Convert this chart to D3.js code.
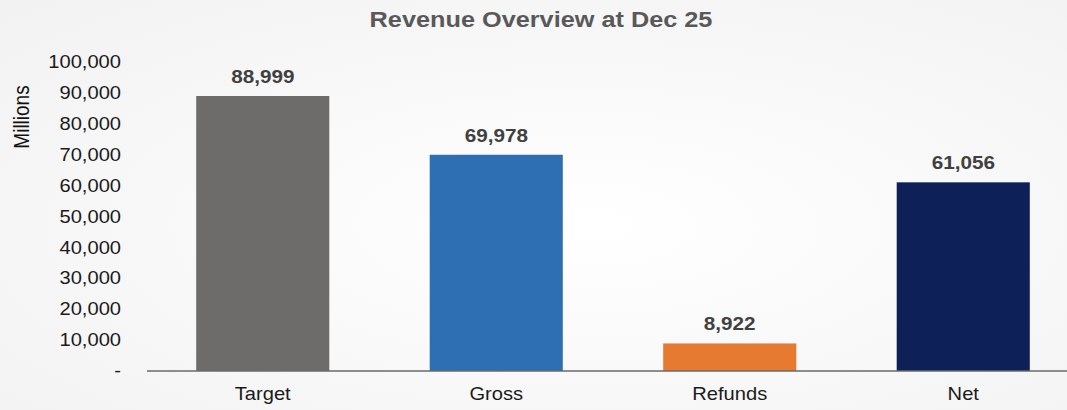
<!DOCTYPE html>
<html><head><meta charset="utf-8">
<script src="https://cdn.jsdelivr.net/npm/d3@7"></script>
<style>
html,body{margin:0;padding:0;background:#f7f7f7;}
svg{display:block;font-family:Arial,"Liberation Sans",sans-serif;}
</style></head><body>
<svg id="c" width="1067" height="410"></svg>
<script>
const categories = ["Target","Gross","Refunds","Net"];
const values = [88999, 69978, 8922, 61056];
const colors = ["#6e6c6b","#2e6eb2","#e67a30","#0d2158"];
const yTicks = [0,10000,20000,30000,40000,50000,60000,70000,80000,90000,100000];

const SX = 1.15;
const svg = d3.select("#c");
const defs = svg.append("defs");
const g0 = defs.append("radialGradient").attr("id","bg").attr("cx","55%").attr("cy","55%").attr("r","75%");
g0.append("stop").attr("offset","0%").attr("stop-color","#ffffff");
g0.append("stop").attr("offset","100%").attr("stop-color","#f2f2f2");
svg.append("rect").attr("width",1067).attr("height",410).attr("fill","url(#bg)");

const x = d3.scaleBand().domain(categories).range([146, 1080]).paddingInner(0.43).paddingOuter(0.215);
const y = d3.scaleLinear().domain([0,100000]).range([371, 62]);

svg.append("text").attr("transform",`translate(541,27) scale(${SX},1)`).attr("text-anchor","middle")
  .attr("font-size",22).attr("font-weight","bold").attr("fill","#595959")
  .text("Revenue Overview at Dec 25");

svg.append("text").attr("transform",`translate(29,117) scale(${SX},1) rotate(-90)`).attr("text-anchor","middle")
  .attr("font-size",19).attr("fill","#111").text("Millions");

const fmt = d3.format(",");
const yAxis = svg.append("g").attr("transform","translate(121,0)")
  .call(d3.axisLeft(y).tickValues(yTicks).tickSize(0).tickPadding(0).tickFormat(d => d === 0 ? "-" : fmt(d)));
yAxis.select(".domain").remove();
yAxis.selectAll("text").attr("font-size",17.5).attr("fill","#1a1a1a")
  .attr("font-family","Arial,'Liberation Sans',sans-serif").attr("transform",`scale(${SX},1)`);

svg.selectAll("rect.bar").data(values).enter().append("rect").attr("class","bar")
  .attr("x",(d,i)=>x(categories[i])).attr("width",x.bandwidth())
  .attr("y",d=>y(d)).attr("height",d=>y(0)-y(d)).attr("fill",(d,i)=>colors[i]);

svg.append("line").attr("x1",147).attr("x2",1067).attr("y1",y(0)).attr("y2",y(0))
  .attr("stroke","#6a6a6a").attr("stroke-width",1.5);

svg.selectAll("text.val").data(values).enter().append("text").attr("class","val")
  .attr("transform",(d,i)=>`translate(${x(categories[i])+x.bandwidth()/2},${y(d)-13}) scale(${SX},1)`)
  .attr("text-anchor","middle").attr("font-size",18).attr("font-weight","bold").attr("fill","#404040")
  .text(d=>fmt(d));

const xAxis = svg.append("g").attr("transform",`translate(0,${y(0)})`)
  .call(d3.axisBottom(x).tickSize(0).tickPadding(17));
xAxis.select(".domain").remove();
xAxis.selectAll("text").attr("font-size",17.5).attr("fill","#1a1a1a")
  .attr("font-family","Arial,'Liberation Sans',sans-serif").attr("transform",`scale(${SX},1)`);
</script></body></html>
